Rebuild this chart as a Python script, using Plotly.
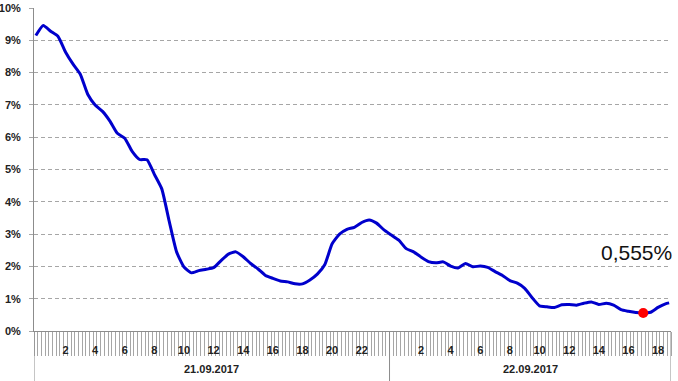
import plotly.graph_objects as go

# Hours since 21.09.2017 00:00 (half-hour readings)
hours = [0, 0.5, 1, 1.5, 2, 2.5, 3, 3.5, 4, 4.5, 5, 5.5, 6, 6.5, 7, 7.5, 8, 8.5, 9, 9.5,
         10, 10.5, 11, 11.5, 12, 12.5, 13, 13.5, 14, 14.5, 15, 15.5, 16, 16.5, 17, 17.5,
         18, 18.5, 19, 19.5, 20, 20.5, 21, 21.5, 22, 22.5, 23, 23.5, 24, 24.5, 25, 25.5,
         26, 26.5, 27, 27.5, 28, 28.5, 29, 29.5, 30, 30.5, 31, 31.5, 32, 32.5, 33, 33.5,
         34, 34.5, 35, 35.5, 36, 36.5, 37, 37.5, 38, 38.5, 39, 39.5, 40, 40.5, 41, 41.5,
         42, 42.5, 42.75]
rate = [9.15, 9.46, 9.28, 9.12, 8.64, 8.27, 7.95, 7.33, 7.00, 6.80, 6.50, 6.12, 5.97, 5.56,
        5.31, 5.30, 4.85, 4.40, 3.40, 2.45, 1.98, 1.80, 1.87, 1.91, 1.96, 2.18, 2.38, 2.45,
        2.30, 2.09, 1.92, 1.72, 1.63, 1.55, 1.52, 1.46, 1.46, 1.58, 1.76, 2.05, 2.70, 3.00,
        3.15, 3.21, 3.36, 3.44, 3.34, 3.13, 2.97, 2.81, 2.55, 2.45, 2.29, 2.15, 2.11, 2.14,
        2.01, 1.95, 2.09, 1.99, 2.01, 1.97, 1.84, 1.72, 1.56, 1.48, 1.32, 1.03, 0.78, 0.75,
        0.73, 0.81, 0.82, 0.80, 0.86, 0.90, 0.82, 0.86, 0.80, 0.66, 0.61, 0.57, 0.555, 0.58,
        0.73, 0.84, 0.87]

highlight_hour = [41]
highlight_rate = [0.555]
highlight_text = "0,555%"

tick_hours = [2, 4, 6, 8, 10, 12, 14, 16, 18, 20, 22, 26, 28, 30, 32, 34, 36, 38, 40, 42]
tick_text = ["2", "4", "6", "8", "10", "12", "14", "16", "18", "20", "22",
             "2", "4", "6", "8", "10", "12", "14", "16", "18"]
days = ["21.09.2017", "22.09.2017"]
day_bounds = [-0.125, 23.875, 42.875]

y_ticks = list(range(0, 11))
y_text = [f"{v}%" for v in y_ticks]

GRAY = "#8c8c8c"
FONT = "Liberation Sans"

fig = go.Figure()
fig.add_trace(go.Scatter(x=hours, y=rate, mode="lines",
                         line=dict(color="#0000cc", width=3, shape="spline", smoothing=0.5),
                         hoverinfo="skip"))
fig.add_trace(go.Scatter(x=highlight_hour, y=highlight_rate, mode="markers",
                         marker=dict(color="#ff0000", size=10), hoverinfo="skip"))

for b in day_bounds:
    fig.add_shape(type="line", xref="x", yref="paper", x0=b, x1=b, y0=0, y1=-0.2,
                  line=dict(color=GRAY, width=1))

for i, d in enumerate(days):
    fig.add_annotation(x=(day_bounds[i] + day_bounds[i + 1]) / 2, xref="x",
                       y=-0.118, yref="paper", yanchor="middle", text=d, showarrow=False,
                       font=dict(family=FONT, size=11, color="#222222", weight="bold"))

fig.add_annotation(x=1, xref="paper", xanchor="right", xshift=3,
                   y=2.42, yref="y", yanchor="middle", text=highlight_text, showarrow=False,
                   font=dict(family=FONT, size=21, color="#111111"))

fig.update_layout(
    width=678, height=381,
    margin=dict(l=34, r=7, t=8, b=50, autoexpand=False),
    paper_bgcolor="white", plot_bgcolor="white",
    showlegend=False,
    xaxis=dict(range=[day_bounds[0], day_bounds[-1]], tickmode="array", automargin=False,
               tickvals=tick_hours, ticktext=tick_text, ticks="", showgrid=False,
               zeroline=False, showline=True, linecolor=GRAY, linewidth=1,
               ticklabelstandoff=9,
               tickfont=dict(family=FONT, size=11, color="#222222", weight="bold"),
               minor=dict(tickmode="linear", tick0=-0.125, dtick=0.25, ticks="outside",
                          ticklen=24, tickcolor="#a6a6a6", tickwidth=1, showgrid=False)),
    yaxis=dict(range=[0, 10], tickmode="array", tickvals=y_ticks, ticktext=y_text,
               automargin=False,
               ticks="outside", ticklen=4, tickcolor="#a6a6a6",
               showgrid=True, gridcolor="#a6a6a6", griddash="4px,3px", gridwidth=1,
               zeroline=False, showline=True, linecolor=GRAY, linewidth=1,
               ticklabelstandoff=6,
               tickfont=dict(family=FONT, size=11, color="#222222", weight="bold")),
)

fig.write_html("out.html", config={"displayModeBar": False},
               post_script="document.body.style.margin='0';document.body.style.overflow='hidden';")
